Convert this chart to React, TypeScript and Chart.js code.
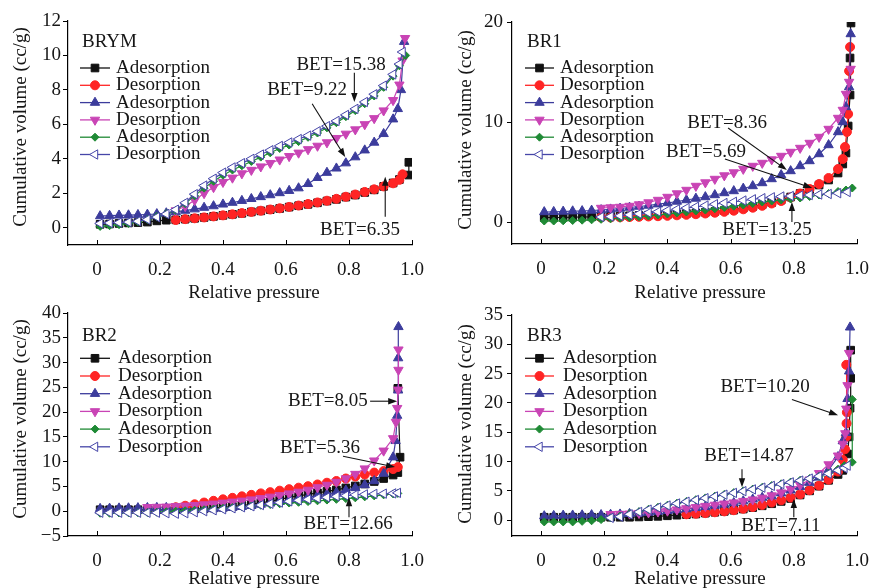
import React, { useEffect, useRef } from "react";
import { Chart, registerables } from "chart.js";
import { drawPoint } from "chart.js/helpers";

Chart.register(...registerables);

const FONT = '"Liberation Serif", "Times New Roman", serif';
const FONT_SIZE = 19;
const TEXT_COLOR = "#161616";

// ---------- shared data ----------
const GRID = [0.01, 0.04, 0.07, 0.1, 0.13, 0.16, 0.19, 0.22, 0.25, 0.28, 0.31, 0.34, 0.37, 0.4, 0.43, 0.46,
  0.49, 0.52, 0.55, 0.58, 0.61, 0.64, 0.67, 0.7, 0.73, 0.76, 0.79, 0.82, 0.85, 0.88, 0.91, 0.94];
const X_TICKS = [0, 0.2, 0.4, 0.6, 0.8, 1.0];
const SERIES_LABELS = ["Adesorption", "Desorption", "Adesorption", "Desorption", "Adesorption", "Desorption"];
const X_TITLE = "Relative pressure";
const Y_TITLE = "Cumulative volume (cc/g)";
const _ = null;

// ---------- BRYM ----------
const BRYM_Y_TICKS = [0, 2, 4, 6, 8, 10, 12];
const BRYM_ADS1_Y = [0.20, 0.22, 0.25, 0.28, 0.30, 0.33, 0.40, 0.44, 0.46, 0.50, 0.55, 0.60, 0.66, 0.72, 0.78, 0.84, 0.92, 0.98, 1.05, 1.12, 1.20, 1.28, 1.36, 1.45, 1.55, 1.65, 1.78, 1.90, 2.05, 2.20, 2.40, 2.60];
const BRYM_ADS1_TX = [0.96, 0.99, 0.99];
const BRYM_ADS1_TY = [2.80, 3.06, 3.80];
const BRYM_DES1_Y = [_, _, _, _, _, _, _, _, 0.45, 0.50, 0.55, 0.60, 0.66, 0.72, 0.78, 0.85, 0.92, 0.99, 1.06, 1.13, 1.21, 1.29, 1.38, 1.47, 1.57, 1.68, 1.80, 1.93, 2.08, 2.23, 2.40, 2.58];
const BRYM_DES1_TX = [0.96, 0.97];
const BRYM_DES1_TY = [2.78, 3.10];
const BRYM_ADS2_Y = [0.68, 0.70, 0.72, 0.73, 0.75, 0.77, 0.80, 0.85, 0.92, 1.00, 1.08, 1.17, 1.26, 1.36, 1.46, 1.57, 1.68, 1.79, 1.90, 2.02, 2.15, 2.30, 2.55, 2.90, 3.20, 3.45, 3.75, 4.10, 4.50, 4.95, 5.45, 6.30];
const BRYM_ADS2_TX = [0.955, 0.965, 0.975];
const BRYM_ADS2_TY = [6.9, 8.0, 10.8];
const BRYM_DES2_Y = [_, _, _, _, _, _, _, _, 1.00, 1.25, 1.60, 2.00, 2.35, 2.65, 2.90, 3.15, 3.35, 3.55, 3.75, 3.95, 4.15, 4.35, 4.55, 4.75, 4.95, 5.20, 5.45, 5.70, 6.00, 6.35, 6.80, 7.40];
const BRYM_DES2_TX = [0.96, 0.97, 0.978];
const BRYM_DES2_TY = [8.3, 9.7, 11.0];
const BRYM_ADS3_Y = [0.08, 0.12, 0.18, 0.25, 0.35, 0.48, 0.65, 0.82, 1.00, 1.40, 1.85, 2.30, 2.70, 3.05, 3.35, 3.60, 3.85, 4.10, 4.35, 4.60, 4.80, 5.00, 5.25, 5.50, 5.80, 6.10, 6.45, 6.80, 7.20, 7.65, 8.15, 8.80];
const BRYM_ADS3_TX = [0.96, 0.98];
const BRYM_ADS3_TY = [9.4, 10.0];
const BRYM_DES3_Y = [0.25, 0.28, 0.30, 0.33, 0.38, 0.48, 0.62, 0.80, 1.05, 1.45, 1.95, 2.45, 2.85, 3.20, 3.50, 3.75, 4.00, 4.25, 4.50, 4.75, 4.95, 5.15, 5.35, 5.60, 5.90, 6.20, 6.55, 6.90, 7.30, 7.75, 8.25, 8.90];
const BRYM_DES3_TX = [0.96, 0.97];
const BRYM_DES3_TY = [9.5, 10.2];

// ---------- BR1 ----------
const BR1_Y_TICKS = [0, 10, 20];
const BR1_ADS1_Y = [0.45, 0.45, 0.45, 0.48, 0.50, 0.52, 0.55, 0.58, 0.60, 0.62, 0.65, 0.68, 0.72, 0.76, 0.80, 0.85, 0.90, 0.97, 1.05, 1.15, 1.27, 1.40, 1.55, 1.75, 1.95, 2.20, 2.50, 2.85, 3.25, 3.70, 4.20, 4.90];
const BR1_ADS1_TX = [0.955, 0.965, 0.972, 0.978, 0.978, 0.981];
const BR1_ADS1_TY = [5.8, 6.9, 9.6, 12.7, 16.4, 19.9];
const BR1_DES1_Y = [_, _, _, _, _, _, 0.45, 0.45, 0.47, 0.50, 0.52, 0.55, 0.58, 0.62, 0.67, 0.72, 0.78, 0.85, 0.93, 1.02, 1.13, 1.27, 1.43, 1.62, 1.85, 2.10, 2.45, 2.85, 3.30, 3.80, 4.40, 5.30];
const BR1_DES1_TX = [0.955, 0.962, 0.968, 0.972, 0.975, 0.978];
const BR1_DES1_TY = [6.3, 7.5, 9.0, 10.8, 15.1, 17.5];
const BR1_ADS2_Y = [1.00, 1.02, 1.05, 1.08, 1.10, 1.15, 1.20, 1.27, 1.35, 1.45, 1.55, 1.65, 1.78, 1.90, 2.05, 2.20, 2.35, 2.50, 2.70, 2.90, 3.10, 3.35, 3.60, 3.90, 4.30, 4.70, 5.10, 5.60, 6.10, 6.80, 7.70, 9.00];
const BR1_ADS2_TX = [0.955, 0.965, 0.975, 0.98];
const BR1_ADS2_TY = [10.0, 11.5, 13.5, 18.8];
const BR1_DES2_Y = [_, _, _, _, _, _, 1.40, 1.45, 1.50, 1.60, 1.75, 1.95, 2.20, 2.50, 2.85, 3.20, 3.60, 3.95, 4.30, 4.65, 4.95, 5.30, 5.60, 5.90, 6.25, 6.60, 7.00, 7.40, 7.90, 8.50, 9.30, 10.40];
const BR1_DES2_TX = [0.955, 0.965, 0.975, 0.98];
const BR1_DES2_TY = [11.2, 12.8, 14.0, 15.3];
const BR1_ADS3_Y = [0.10, 0.10, 0.12, 0.15, 0.18, 0.22, 0.27, 0.32, 0.38, 0.45, 0.52, 0.60, 0.70, 0.80, 0.90, 1.00, 1.10, 1.20, 1.32, 1.45, 1.58, 1.70, 1.85, 2.00, 2.10, 2.20, 2.30, 2.40, 2.55, 2.70, 2.85, 3.05];
const BR1_ADS3_TX = [0.965, 0.985];
const BR1_ADS3_TY = [3.2, 3.4];
const BR1_DES3_Y = [_, _, _, _, _, _, 0.50, 0.55, 0.62, 0.72, 0.82, 0.92, 1.03, 1.15, 1.27, 1.40, 1.52, 1.65, 1.78, 1.90, 2.02, 2.15, 2.27, 2.38, 2.47, 2.55, 2.60, 2.65, 2.70, 2.75, 2.80, 2.88];
const BR1_DES3_TX = [0.97];
const BR1_DES3_TY = [3.0];

// ---------- BR2 ----------
const BR2_Y_TICKS = [-5, 0, 5, 10, 15, 20, 25, 30, 35, 40];
const BR2_ADS1_Y = [0.30, 0.30, 0.30, 0.30, 0.30, 0.30, 0.30, 0.30, 0.35, 0.40, 0.45, 0.55, 0.65, 0.80, 0.95, 1.15, 1.40, 1.70, 2.00, 2.40, 2.80, 3.10, 3.40, 3.70, 4.00, 4.30, 4.70, 5.10, 5.50, 6.00, 6.60, 7.30];
const BR2_ADS1_TX = [0.955, 0.962, 0.955];
const BR2_ADS1_TY = [7.8, 10.9, 24.8];
const BR2_DES1_Y = [_, _, _, _, _, _, _, _, 0.80, 1.10, 1.40, 1.75, 2.10, 2.40, 2.70, 3.00, 3.30, 3.60, 3.85, 4.15, 4.45, 4.75, 5.05, 5.40, 5.75, 6.10, 6.60, 7.00, 7.40, 7.80, 8.10, 8.50];
const BR2_DES1_TX = [0.955];
const BR2_DES1_TY = [8.9];
const BR2_ADS2_Y = [0.50, 0.55, 0.60, 0.62, 0.65, 0.68, 0.70, 0.70, 0.60, 0.50, 0.45, 0.45, 0.50, 0.60, 0.75, 0.90, 1.10, 1.35, 1.60, 1.90, 2.25, 2.55, 2.85, 3.15, 3.45, 3.80, 4.20, 4.70, 5.30, 6.10, 7.60, 10.90];
const BR2_ADS2_TX = [0.948, 0.953, 0.956, 0.956, 0.957];
const BR2_ADS2_TY = [14.2, 19.3, 24.4, 30.9, 37.2];
const BR2_DES2_Y = [_, _, _, _, _, 0.80, 0.85, 0.90, 1.00, 1.10, 1.20, 1.35, 1.50, 1.70, 1.90, 2.10, 2.35, 2.60, 2.90, 3.20, 3.55, 3.90, 4.30, 4.80, 5.30, 5.90, 6.60, 7.50, 8.60, 10.20, 12.20, 14.70];
const BR2_DES2_TX = [0.949, 0.953, 0.956, 0.957, 0.957];
const BR2_DES2_TY = [18.0, 20.8, 24.5, 28.5, 32.6];
const BR2_ADS3_Y = [-0.40, -0.40, -0.35, -0.30, -0.30, -0.25, -0.20, -0.10, 0.00, 0.10, 0.20, 0.30, 0.45, 0.60, 0.75, 0.90, 1.05, 1.20, 1.35, 1.50, 1.65, 1.80, 1.95, 2.10, 2.25, 2.40, 2.55, 2.70, 2.90, 3.10, 3.30, 3.50];
const BR2_ADS3_TX = [0.955];
const BR2_ADS3_TY = [3.6];
const BR2_DES3_Y = [-0.30, -0.30, -0.30, -0.30, -0.30, -0.30, -0.30, -0.40, -0.50, -0.40, -0.20, 0.00, 0.20, 0.40, 0.60, 0.80, 1.00, 1.25, 1.50, 1.75, 2.00, 2.20, 2.40, 2.60, 2.80, 3.00, 3.15, 3.30, 3.40, 3.50, 3.55, 3.60];
const BR2_DES3_TX = [0.955];
const BR2_DES3_TY = [3.7];

// ---------- BR3 ----------
const BR3_Y_TICKS = [0, 5, 10, 15, 20, 25, 30, 35];
const BR3_ADS1_Y = [0.50, 0.50, 0.50, 0.50, 0.50, 0.50, 0.50, 0.50, 0.50, 0.50, 0.55, 0.60, 0.65, 0.75, 0.85, 0.95, 1.05, 1.20, 1.35, 1.50, 1.70, 1.90, 2.15, 2.45, 2.80, 3.20, 3.70, 4.30, 5.00, 5.80, 6.80, 7.80];
const BR3_ADS1_TX = [0.955, 0.97, 0.975, 0.978, 0.98, 0.98];
const BR3_ADS1_TY = [8.5, 11.3, 14.2, 19.1, 24.2, 29.0];
const BR3_DES1_Y = [_, _, _, _, _, _, _, _, _, _, _, _, _, _, _, 1.00, 1.10, 1.20, 1.35, 1.50, 1.70, 1.95, 2.25, 2.60, 3.00, 3.40, 3.85, 4.40, 5.10, 5.90, 6.90, 8.30];
const BR3_DES1_TX = [0.955, 0.962, 0.966, 0.967, 0.968, 0.966];
const BR3_DES1_TY = [10.3, 12.1, 14.2, 16.5, 18.4, 26.5];
const BR3_ADS2_Y = [0.70, 0.75, 0.80, 0.82, 0.85, 0.88, 0.90, 0.95, 1.00, 1.10, 1.20, 1.30, 1.45, 1.60, 1.75, 1.90, 2.10, 2.30, 2.50, 2.70, 2.95, 3.25, 3.55, 3.85, 4.10, 4.60, 5.10, 5.70, 6.40, 7.30, 8.60, 10.80];
const BR3_ADS2_TX = [0.955, 0.965, 0.97, 0.975, 0.978];
const BR3_ADS2_TY = [13.5, 14.9, 20.7, 25.4, 32.9];
const BR3_DES2_Y = [_, _, _, _, _, _, _, 1.00, 1.05, 1.10, 1.20, 1.30, 1.45, 1.60, 1.80, 2.00, 2.20, 2.40, 2.60, 2.80, 3.00, 3.25, 3.50, 3.80, 4.20, 4.70, 5.30, 6.00, 6.90, 8.00, 9.50, 11.00];
const BR3_DES2_TX = [0.955, 0.963, 0.966, 0.97, 0.975];
const BR3_DES2_TY = [13.0, 14.8, 19.0, 23.0, 28.5];
const BR3_ADS3_Y = [-0.30, -0.30, -0.30, -0.30, -0.20, -0.10, 0.10, 0.40, 0.70, 1.10, 1.45, 1.85, 2.20, 2.55, 2.90, 3.20, 3.50, 3.80, 4.10, 4.40, 4.70, 5.00, 5.30, 5.60, 5.90, 6.20, 6.50, 6.80, 7.10, 7.50, 8.00, 8.70];
const BR3_ADS3_TX = [0.96, 0.985, 0.985];
const BR3_ADS3_TY = [9.3, 9.9, 20.6];
const BR3_DES3_Y = [_, _, _, _, _, _, _, 0.40, 0.60, 1.00, 1.40, 1.80, 2.15, 2.50, 2.85, 3.15, 3.45, 3.75, 4.05, 4.35, 4.65, 4.95, 5.25, 5.55, 5.85, 6.15, 6.45, 6.75, 7.10, 7.50, 7.95, 8.50];
const BR3_DES3_TX = [0.96, 0.97];
const BR3_DES3_TY = [8.9, 9.3];

// ---------- styles ----------
const SERIES_STYLES = [
  { color: "#111111", fill: "#111111", pointStyle: "rect", rotation: 0, radius: 5.4 },
  { color: "#ff2424", fill: "#ff2424", pointStyle: "circle", rotation: 0, radius: 4.5 },
  { color: "#3c3c9c", fill: "#3c3c9c", pointStyle: "triangle", rotation: 0, radius: 5.4 },
  { color: "#c944b5", fill: "#c944b5", pointStyle: "triangle", rotation: 180, radius: 5.4 },
  { color: "#1f8a35", fill: "#1f8a35", pointStyle: "rectRot", rotation: 0, radius: 4 },
  { color: "#4646a8", fill: "#ffffff", pointStyle: "triangle", rotation: -90, radius: 5.4 },
];

type Series = { y: (number | null)[]; tx: number[]; ty: number[] };
type Note = { text: string; at: [number, number]; from: [number, number]; to: [number, number] };
type Panel = {
  name: string;
  series: Series[];
  yMin: number; yMax: number; yTicks: number[];
  area: { l: number; r: number; t: number; b: number };
  yTickPad: number;
  yTitle: [number, number];
  xTitle: [number, number];
  legend: { titleX: number; titleY: number; x1: number; x2: number; textX: number; rowY: number; step: number };
  notes: Note[];
};

const X_MIN = -0.092;
const X_MAX = 1.0;

const PANELS: Panel[] = [
  {
    name: "BRYM",
    series: [
      { y: BRYM_ADS1_Y, tx: BRYM_ADS1_TX, ty: BRYM_ADS1_TY },
      { y: BRYM_DES1_Y, tx: BRYM_DES1_TX, ty: BRYM_DES1_TY },
      { y: BRYM_ADS2_Y, tx: BRYM_ADS2_TX, ty: BRYM_ADS2_TY },
      { y: BRYM_DES2_Y, tx: BRYM_DES2_TX, ty: BRYM_DES2_TY },
      { y: BRYM_ADS3_Y, tx: BRYM_ADS3_TX, ty: BRYM_ADS3_TY },
      { y: BRYM_DES3_Y, tx: BRYM_DES3_TX, ty: BRYM_DES3_TY },
    ],
    yMin: -1, yMax: 12, yTicks: BRYM_Y_TICKS,
    area: { l: 68, r: 412, t: 21, b: 245 },
    yTickPad: 2,
    yTitle: [21, 127],
    xTitle: [254, 293],
    legend: { titleX: 82, titleY: 42, x1: 80, x2: 110, textX: 116, rowY: 68, step: 17.3 },
    notes: [
      { text: "BET=15.38", at: [0.775, 9.45], from: [0.817, 9.0], to: [0.817, 7.3] },
      { text: "BET=9.22", at: [0.667, 8.0], from: [0.683, 7.2], to: [0.788, 4.1] },
      { text: "BET=6.35", at: [0.835, -0.13], from: [0.915, 0.64], to: [0.915, 2.96] },
    ],
  },
  {
    name: "BR1",
    series: [
      { y: BR1_ADS1_Y, tx: BR1_ADS1_TX, ty: BR1_ADS1_TY },
      { y: BR1_DES1_Y, tx: BR1_DES1_TX, ty: BR1_DES1_TY },
      { y: BR1_ADS2_Y, tx: BR1_ADS2_TX, ty: BR1_ADS2_TY },
      { y: BR1_DES2_Y, tx: BR1_DES2_TX, ty: BR1_DES2_TY },
      { y: BR1_ADS3_Y, tx: BR1_ADS3_TX, ty: BR1_ADS3_TY },
      { y: BR1_DES3_Y, tx: BR1_DES3_TX, ty: BR1_DES3_TY },
    ],
    yMin: -2.2, yMax: 20, yTicks: BR1_Y_TICKS,
    area: { l: 512, r: 857, t: 22, b: 244 },
    yTickPad: 4,
    yTitle: [466, 130],
    xTitle: [700, 293],
    legend: { titleX: 527, titleY: 42, x1: 525, x2: 554, textX: 560, rowY: 68, step: 17.3 },
    notes: [
      { text: "BET=8.36", at: [0.589, 9.9], from: [0.592, 9.4], to: [0.778, 5.2] },
      { text: "BET=5.69", at: [0.522, 7.0], from: [0.582, 6.3], to: [0.858, 3.4] },
      { text: "BET=13.25", at: [0.715, -0.8], from: [0.794, 0.0], to: [0.794, 2.0] },
    ],
  },
  {
    name: "BR2",
    series: [
      { y: BR2_ADS1_Y, tx: BR2_ADS1_TX, ty: BR2_ADS1_TY },
      { y: BR2_DES1_Y, tx: BR2_DES1_TX, ty: BR2_DES1_TY },
      { y: BR2_ADS2_Y, tx: BR2_ADS2_TX, ty: BR2_ADS2_TY },
      { y: BR2_DES2_Y, tx: BR2_DES2_TX, ty: BR2_DES2_TY },
      { y: BR2_ADS3_Y, tx: BR2_ADS3_TX, ty: BR2_ADS3_TY },
      { y: BR2_DES3_Y, tx: BR2_DES3_TX, ty: BR2_DES3_TY },
    ],
    yMin: -5, yMax: 40, yTicks: BR2_Y_TICKS,
    area: { l: 68, r: 412, t: 313, b: 536 },
    yTickPad: 2,
    yTitle: [21, 419],
    xTitle: [254, 579],
    legend: { titleX: 82, titleY: 336, x1: 80, x2: 110, textX: 118, rowY: 358.3, step: 17.7 },
    notes: [
      { text: "BET=8.05", at: [0.733, 22.2], from: [0.867, 22.2], to: [0.953, 22.2] },
      { text: "BET=5.36", at: [0.708, 12.7], from: [0.781, 11.1], to: [0.946, 8.9] },
      { text: "BET=12.66", at: [0.797, -2.6], from: [0.8, -1.2], to: [0.8, 2.8] },
    ],
  },
  {
    name: "BR3",
    series: [
      { y: BR3_ADS1_Y, tx: BR3_ADS1_TX, ty: BR3_ADS1_TY },
      { y: BR3_DES1_Y, tx: BR3_DES1_TX, ty: BR3_DES1_TY },
      { y: BR3_ADS2_Y, tx: BR3_ADS2_TX, ty: BR3_ADS2_TY },
      { y: BR3_DES2_Y, tx: BR3_DES2_TX, ty: BR3_DES2_TY },
      { y: BR3_ADS3_Y, tx: BR3_ADS3_TX, ty: BR3_ADS3_TY },
      { y: BR3_DES3_Y, tx: BR3_DES3_TX, ty: BR3_DES3_TY },
    ],
    yMin: -2.7, yMax: 35, yTicks: BR3_Y_TICKS,
    area: { l: 512, r: 857, t: 315, b: 536 },
    yTickPad: 4,
    yTitle: [466, 424],
    xTitle: [700, 579],
    legend: { titleX: 527, titleY: 336, x1: 525, x2: 554, textX: 563, rowY: 358.3, step: 17.7 },
    notes: [
      { text: "BET=10.20", at: [0.709, 22.7], from: [0.794, 20.6], to: [0.94, 17.9] },
      { text: "BET=14.87", at: [0.658, 10.9], from: [0.636, 8.7], to: [0.636, 5.6] },
      { text: "BET=7.11", at: [0.759, -1.0], from: [0.8, 0.5], to: [0.8, 3.6] },
    ],
  },
];

const W = 870;
const H = 588;
const Y_BOX = 50;
const X_BOX = 40;

function buildPoints(s: Series) {
  const pts: { x: number; y: number }[] = [];
  GRID.forEach((x, i) => {
    const y = s.y[i];
    if (y !== null && y !== undefined) pts.push({ x, y });
  });
  s.tx.forEach((x, i) => pts.push({ x, y: s.ty[i] }));
  return pts;
}

function arrow(ctx: CanvasRenderingContext2D, x1: number, y1: number, x2: number, y2: number) {
  const a = Math.atan2(y2 - y1, x2 - x1);
  const L = 9;
  const Wd = 3.2;
  ctx.beginPath();
  ctx.moveTo(x1, y1);
  ctx.lineTo(x2 - L * 0.7 * Math.cos(a), y2 - L * 0.7 * Math.sin(a));
  ctx.stroke();
  ctx.beginPath();
  ctx.moveTo(x2, y2);
  ctx.lineTo(x2 - L * Math.cos(a) + Wd * Math.sin(a), y2 - L * Math.sin(a) - Wd * Math.cos(a));
  ctx.lineTo(x2 - L * Math.cos(a) - Wd * Math.sin(a), y2 - L * Math.sin(a) + Wd * Math.cos(a));
  ctx.closePath();
  ctx.fill();
}

function overlayPlugin(p: Panel) {
  return {
    id: "overlay" + p.name,
    afterDraw(chart: any) {
      const ctx: CanvasRenderingContext2D = chart.ctx;
      const xs = chart.scales.x;
      const ys = chart.scales.y;
      const area = chart.chartArea;
      ctx.save();
      // inward x tick marks
      ctx.strokeStyle = "#000";
      ctx.lineWidth = 1;
      X_TICKS.forEach((v) => {
        const px = Math.round(xs.getPixelForValue(v)) + 0.5;
        ctx.beginPath();
        ctx.moveTo(px, area.bottom);
        ctx.lineTo(px, area.bottom - 5);
        ctx.stroke();
      });
      // axis titles
      ctx.fillStyle = TEXT_COLOR;
      ctx.font = `${FONT_SIZE}px ${FONT}`;
      ctx.textAlign = "center";
      ctx.textBaseline = "middle";
      ctx.fillText(X_TITLE, p.xTitle[0], p.xTitle[1]);
      ctx.save();
      ctx.translate(p.yTitle[0], p.yTitle[1]);
      ctx.rotate(-Math.PI / 2);
      ctx.fillText(Y_TITLE, 0, 0);
      ctx.restore();
      // legend
      const lg = p.legend;
      ctx.textAlign = "left";
      ctx.fillText(p.name, lg.titleX, lg.titleY);
      SERIES_STYLES.forEach((st, i) => {
        const y = lg.rowY + i * lg.step;
        ctx.strokeStyle = st.color;
        ctx.lineWidth = 1.3;
        ctx.beginPath();
        ctx.moveTo(lg.x1, y);
        ctx.lineTo(lg.x2, y);
        ctx.stroke();
        ctx.fillStyle = st.fill;
        ctx.strokeStyle = st.color;
        ctx.lineWidth = 1;
        drawPoint(ctx, { pointStyle: st.pointStyle, rotation: st.rotation, radius: st.radius, borderWidth: 1 } as any, (lg.x1 + lg.x2) / 2, y);
        ctx.fillStyle = TEXT_COLOR;
        ctx.fillText(SERIES_LABELS[i], lg.textX, y);
      });
      // BET annotations
      ctx.textAlign = "center";
      ctx.strokeStyle = "#111";
      ctx.fillStyle = "#111";
      ctx.lineWidth = 1.1;
      p.notes.forEach((n) => {
        ctx.fillStyle = TEXT_COLOR;
        ctx.fillText(n.text, xs.getPixelForValue(n.at[0]), ys.getPixelForValue(n.at[1]));
        ctx.fillStyle = "#111";
        arrow(ctx, xs.getPixelForValue(n.from[0]), ys.getPixelForValue(n.from[1]), xs.getPixelForValue(n.to[0]), ys.getPixelForValue(n.to[1]));
      });
      ctx.restore();
    },
  };
}

function fmtX(v: number) {
  return v === 0 ? "0" : Number(v).toFixed(1);
}
function fmtY(v: number) {
  return v < 0 ? "\u2212" + String(Math.abs(v)) : String(v);
}

function PanelChart({ p }: { p: Panel }) {
  const ref = useRef<HTMLCanvasElement | null>(null);
  useEffect(() => {
    if (!ref.current) return;
    const datasets = p.series.map((s, i) => {
      const st = SERIES_STYLES[i];
      return {
        label: SERIES_LABELS[i],
        data: buildPoints(s),
        showLine: true,
        borderColor: st.color,
        borderWidth: 1.2,
        backgroundColor: st.fill,
        pointStyle: st.pointStyle,
        pointRotation: st.rotation,
        pointRadius: st.radius,
        pointBorderWidth: 1,
        pointBorderColor: st.color,
        pointBackgroundColor: st.fill,
        tension: 0,
        order: 6 - i,
      };
    });
    const tickFont = { family: FONT, size: FONT_SIZE };
    const chart = new Chart(ref.current, {
      type: "scatter",
      data: { datasets } as any,
      options: {
        animation: false,
        responsive: false,
        devicePixelRatio: 1,
        events: [],
        layout: {
          padding: {
            left: p.area.l - Y_BOX,
            right: W - p.area.r,
            top: p.area.t,
            bottom: H - p.area.b - X_BOX,
          },
        },
        plugins: { legend: { display: false }, tooltip: { enabled: false }, title: { display: false } },
        scales: {
          x: {
            type: "linear",
            min: X_MIN,
            max: X_MAX,
            afterBuildTicks: (s: any) => {
              s.ticks = X_TICKS.map((v) => ({ value: v }));
            },
            afterFit: (s: any) => {
              s.height = X_BOX;
              s.paddingLeft = 0;
              s.paddingRight = 0;
            },
            grid: { display: false },
            border: { display: true, color: "#000", width: 1.2 },
            ticks: {
              padding: 6,
              color: TEXT_COLOR,
              font: tickFont,
              maxRotation: 0,
              autoSkip: false,
              callback: (v: any) => fmtX(Number(v)),
            },
          },
          y: {
            type: "linear",
            min: p.yMin,
            max: p.yMax,
            afterBuildTicks: (s: any) => {
              s.ticks = p.yTicks.map((v) => ({ value: v }));
            },
            afterFit: (s: any) => {
              s.width = Y_BOX;
              s.paddingTop = 0;
              s.paddingBottom = 0;
            },
            grid: { display: true, drawOnChartArea: false, drawTicks: true, tickLength: 5, color: "#000", lineWidth: 1 },
            border: { display: true, color: "#000", width: 1.2 },
            ticks: {
              padding: p.yTickPad,
              color: TEXT_COLOR,
              font: tickFont,
              autoSkip: false,
              callback: (v: any) => fmtY(Number(v)),
            },
          },
        },
      } as any,
      plugins: [overlayPlugin(p)],
    });
    return () => chart.destroy();
  }, [p]);
  return (
    <canvas
      ref={ref}
      width={W}
      height={H}
      style={{ position: "absolute", left: 0, top: 0, width: W, height: H }}
    />
  );
}

export default function App() {
  return (
    <div style={{ position: "absolute", left: 0, top: 0, width: W, height: H, background: "#ffffff", overflow: "hidden" }}>
      {PANELS.map((p) => (
        <PanelChart key={p.name} p={p} />
      ))}
    </div>
  );
}
